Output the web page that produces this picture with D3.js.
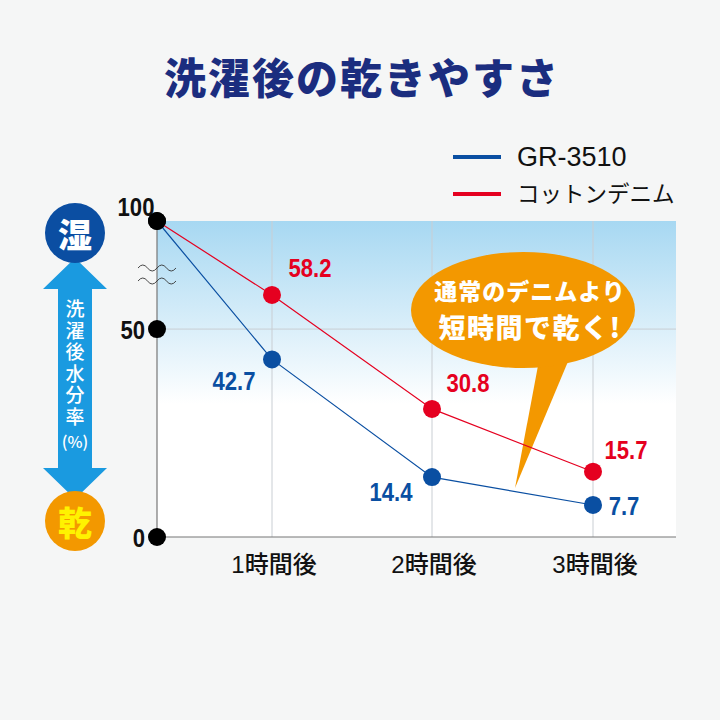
<!DOCTYPE html>
<html><head><meta charset="utf-8">
<script src="https://cdn.jsdelivr.net/npm/d3@7"></script>
<style>body{margin:0;background:#f5f6f6;}svg{display:block;}</style>
</head><body>
<script>
const title = "洗濯後の乾きやすさ";
const categories = ["", "1時間後", "2時間後", "3時間後"];
const hours = [0, 1, 2, 3];
const seriesNames = ["GR-3510", "コットンデニム"];
const gr3510 = [100, 42.7, 14.4, 7.7];
const cottonDenim = [100, 58.2, 30.8, 15.7];
const yTicks = [0, 50, 100];
const seriesColors = ["#0a4fa2", "#e50020"];
const bubbleLines = ["通常のデニムより", "短時間で乾く!"];
const sideLabel = "洗濯後水分率";
const sideUnit = "(%)";

const W = 720, H = 720;
const svg = d3.select("body").append("svg").attr("width", W).attr("height", H);
svg.append("rect").attr("width", W).attr("height", H).attr("fill", "#f5f6f6");

const x = d3.scaleLinear().domain(hours).range([157, 272, 432, 593]);
// broken y axis: linear part up to ~63, compressed above
const y = d3.scaleLinear().domain([0, 63, 100]).range([537, 275, 221]);
const plotL = 157, plotR = 676, plotT = y(100), plotB = y(0);

const defs = svg.append("defs");
const grad = defs.append("linearGradient").attr("id", "bg").attr("x1", 0).attr("x2", 0).attr("y1", 0).attr("y2", 1);
grad.append("stop").attr("offset", "0%").attr("stop-color", "#a7d8f2");
grad.append("stop").attr("offset", "58%").attr("stop-color", "#ffffff");
grad.append("stop").attr("offset", "100%").attr("stop-color", "#ffffff");
svg.append("rect").attr("x", plotL).attr("y", plotT).attr("width", plotR - plotL).attr("height", plotB - plotT).attr("fill", "url(#bg)");

// grid
svg.append("g").selectAll("line").data(hours.slice(1)).join("line")
  .attr("x1", d => x(d)).attr("x2", d => x(d)).attr("y1", plotT).attr("y2", plotB)
  .attr("stroke", "#c9ced3").attr("stroke-width", 1);
svg.append("line").attr("x1", plotL).attr("x2", plotR).attr("y1", y(50)).attr("y2", y(50))
  .attr("stroke", "#c9ced3").attr("stroke-width", 1);

// axes
svg.append("line").attr("x1", plotL).attr("x2", plotL).attr("y1", plotT).attr("y2", plotB).attr("stroke", "#777").attr("stroke-width", 1.2);
svg.append("line").attr("x1", plotL).attr("x2", plotR).attr("y1", plotB).attr("y2", plotB).attr("stroke", "#777").attr("stroke-width", 1.2);

// break squiggles
const sq = svg.append("g");
[268, 281].forEach(yy => {
  let p = `M138,${yy}`;
  for (let i = 0; i < 4; i++) { const x0 = 138 + i * 9.5; p += ` Q${x0 + 4.75},${yy + (i % 2 ? 6 : -6)} ${x0 + 9.5},${yy}`; }
  sq.append("path").attr("d", p).attr("fill", "none").attr("stroke", "#333").attr("stroke-width", 0.9);
});

// y ticks: black dots + labels
const numFont = "'Liberation Sans', Arial, sans-serif";
svg.append("g").selectAll("circle").data(yTicks).join("circle")
  .attr("cx", plotL).attr("cy", d => y(d)).attr("r", 9).attr("fill", "#000");
const yl = svg.append("g");
yTicks.forEach(t => {
  const tx = t === 100 ? 136 : 145;
  const ty = t === 100 ? y(t) - 14 : y(t) + 1;
  yl.append("text").attr("transform", `translate(${tx},${ty}) scale(0.85,1)`)
    .attr("text-anchor", t === 100 ? "middle" : "end").attr("dominant-baseline", "central")
    .attr("font-family", numFont).attr("font-weight", "bold").attr("font-size", 26).attr("fill", "#111").text(t);
});

// x tick labels
svg.append("g").selectAll("text").data(hours.slice(1)).join("text")
  .attr("x", d => x(d) + 2).attr("y", 564).attr("text-anchor", "middle").attr("dominant-baseline", "central")
  .attr("font-family", "'Liberation Sans', 'Noto Sans CJK JP', sans-serif").attr("font-weight", 500).attr("font-size", 24).attr("fill", "#111")
  .text(d => categories[d]);

// speech bubble
const bub = svg.append("g");
bub.append("path").attr("d", "M540,355 L515,488 L572,352 Z").attr("fill", "#f39800");
bub.append("ellipse").attr("cx", 523).attr("cy", 310).attr("rx", 112).attr("ry", 58).attr("fill", "#f39800");
bub.append("text").attr("x", 530).attr("y", 300).attr("text-anchor", "middle")
  .attr("font-family", "'Noto Sans CJK JP', sans-serif").attr("font-weight", 900).attr("fill", "#fff")
  .attr("font-size", 23).attr("letter-spacing", 1).text(bubbleLines[0]);
bub.append("text").attr("x", 530).attr("y", 338).attr("text-anchor", "middle")
  .attr("font-family", "'Noto Sans CJK JP', sans-serif").attr("font-weight", 900).attr("fill", "#fff")
  .attr("font-size", 27).attr("letter-spacing", 1.5).text(bubbleLines[1]);

// series
const series = [
  { name: seriesNames[0], values: gr3510, color: seriesColors[0], labelDx: [0, -38, -41, 31], labelDy: [0, 21, 15, 1] },
  { name: seriesNames[1], values: cottonDenim, color: seriesColors[1], labelDx: [0, 38, 36, 33], labelDy: [0, -27, -26, -22] }
];
const line = d3.line().x((d, i) => x(hours[i])).y(d => y(d));
series.slice().reverse().forEach(s => {
  svg.append("path").datum(s.values).attr("d", line).attr("fill", "none").attr("stroke", s.color).attr("stroke-width", 1.2);
});
series.forEach(s => {
  const g = svg.append("g");
  g.selectAll("circle").data(s.values.slice(1)).join("circle")
    .attr("cx", (d, i) => x(hours[i + 1])).attr("cy", d => y(d)).attr("r", 9).attr("fill", s.color);
  s.values.slice(1).forEach((v, i) => {
    const cx = x(hours[i + 1]) + s.labelDx[i + 1], cy = y(v) + s.labelDy[i + 1];
    g.append("text").attr("transform", `translate(${cx},${cy}) scale(0.85,1)`)
      .attr("text-anchor", "middle").attr("dominant-baseline", "central")
      .attr("font-family", numFont).attr("font-weight", "bold").attr("font-size", 26).attr("fill", s.color).text(v);
  });
});
// start point dot (black, shared)
svg.append("circle").attr("cx", x(0)).attr("cy", y(100)).attr("r", 9).attr("fill", "#000");

// legend
const lg = svg.append("g");
series.forEach((s, i) => {
  const ly = 157 + i * 37;
  lg.append("line").attr("x1", 453).attr("x2", 501).attr("y1", ly).attr("y2", ly).attr("stroke", s.color).attr("stroke-width", 4);
  lg.append("text").attr("x", 517).attr("y", ly).attr("dominant-baseline", "central")
    .attr("font-family", "'Liberation Sans', 'Noto Sans CJK JP', sans-serif").attr("font-size", i === 0 ? 27 : 22.5).attr("fill", "#111").text(s.name);
});

// title
svg.append("text").attr("x", 362).attr("y", 75).attr("text-anchor", "middle").attr("dominant-baseline", "central")
  .attr("font-family", "'Noto Sans CJK JP', sans-serif").attr("font-weight", 900).attr("font-size", 42).attr("fill", "#1b2d7f")
  .attr("letter-spacing", 2).text(title);

// side indicator
const side = svg.append("g");
side.append("path").attr("d", "M75,258 L107,289 L92,289 L92,468 L107,468 L75,499 L43,468 L58,468 L58,289 L43,289 Z").attr("fill", "#1a9ae0");
side.append("circle").attr("cx", 75).attr("cy", 233).attr("r", 30).attr("fill", "#0b4ea2");
side.append("circle").attr("cx", 75).attr("cy", 521).attr("r", 30).attr("fill", "#f39800");
side.append("text").attr("x", 75).attr("y", 233).attr("text-anchor", "middle").attr("dominant-baseline", "central")
  .attr("font-family", "'Noto Sans CJK JP', sans-serif").attr("font-weight", 900).attr("font-size", 34).attr("fill", "#fff").text("湿");
side.append("text").attr("x", 75).attr("y", 521).attr("text-anchor", "middle").attr("dominant-baseline", "central")
  .attr("font-family", "'Noto Sans CJK JP', sans-serif").attr("font-weight", 900).attr("font-size", 34).attr("fill", "#fff200").text("乾");
side.append("text").attr("x", 75).attr("y", 364)
  .attr("writing-mode", "tb").attr("text-anchor", "middle")
  .attr("font-family", "'Noto Sans CJK JP', sans-serif").attr("font-weight", 500)
  .attr("font-size", 19).attr("letter-spacing", 2.5).attr("fill", "#fff").text(sideLabel);
side.append("text").attr("x", 75).attr("y", 441).attr("text-anchor", "middle").attr("dominant-baseline", "central")
  .attr("font-family", "'Noto Sans CJK JP', sans-serif").attr("font-weight", 500)
  .attr("font-size", 16).attr("fill", "#fff").text(sideUnit);
</script>
</body></html>
